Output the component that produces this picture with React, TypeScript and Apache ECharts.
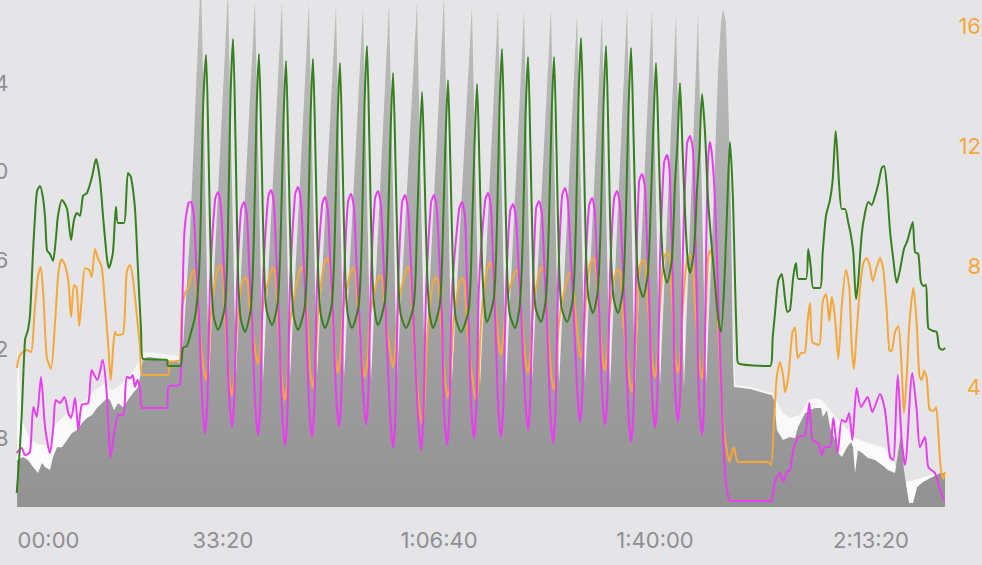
import { useEffect, useRef } from 'react';
import * as echarts from 'echarts';

const BG = '#e5e5e8';
const AXIS_GRAY = '#8e8e93';
const ORANGE = '#f5a83a';
const GREEN = '#37801f';
const MAGENTA = '#e93df2';
const FONT = 'Inter, "Liberation Sans", sans-serif';

// time axis (seconds)
const xMax = 8685;
const xTickInterval = 2000;
// left axis (green / magenta)
const leftMin = 44;
const leftMax = 67.72;
const leftInterval = 4;
// right axis (orange, areas)
const rightMin = 0;
const rightMax = 16.86;
const rightInterval = 4;

const greenLine: number[][] = [
  [90,45.50],[120,47.57],[139,49.33],[167,52.40],[194,52.85],[213,53.52],[241,56.36],[259,57.94],[278,59.11],[306,59.34],[333,58.80],[352,57.94],[370,56.45],[398,56.27],[426,55.96],[454,57.04],[472,57.99],[509,58.71],[556,58.30],[593,56.90],[620,57.80],[648,58.12],[676,57.99],[704,58.89],[741,59.02],[787,59.74],[824,60.55],[861,59.61],[889,57.99],[926,56.05],[944,55.64],[981,56.36],[1009,58.39],[1028,57.67],[1083,57.67],[1120,59.92],[1148,59.74],[1185,58.30],[1213,55.55],[1241,52.85],[1259,51.54],[1481,51.50],[1491,51.22],[1602,51.22],[1630,52.04],[1667,52.13],[1710,52.85],[1741,53.43],[1766,54.51],[1787,56.45],[1803,60.19],[1818,63.21],[1843,65.24],
  [1866,60.91],[1889,55.55],[1912,53.52],[1954,52.85],[2019,53.97],[2046,57.35],[2069,63.26],[2093,65.96],
  [2116,61.32],[2139,55.46],[2162,53.43],[2204,52.76],[2259,53.88],[2287,57.26],[2310,62.58],[2333,65.29],
  [2356,61.00],[2380,55.78],[2403,53.75],[2454,53.07],[2509,54.20],[2537,57.58],[2560,62.27],[2583,64.97],
  [2606,60.73],[2630,55.55],[2653,53.52],[2694,52.85],[2759,53.97],[2787,57.35],[2810,62.36],[2833,65.06],
  [2856,60.82],[2880,55.64],[2903,53.61],[2944,52.94],[3009,54.06],[3037,57.44],[3060,62.18],[3083,64.88],
  [3106,60.69],[3130,55.64],[3153,53.61],[3194,52.94],[3259,54.06],[3287,57.44],[3310,62.94],[3333,65.65],
  [3356,61.23],[3380,55.78],[3403,53.75],[3435,53.07],[3500,54.20],[3528,57.58],[3551,61.73],[3574,64.43],
  [3597,60.42],[3620,55.64],[3643,53.61],[3694,52.94],[3768,54.06],[3796,57.44],[3819,60.87],[3843,63.57],
  [3866,59.83],[3889,55.64],[3912,53.61],[3944,52.94],[4009,54.06],[4037,57.44],[4060,61.41],[4083,64.11],
  [4106,60.15],[4130,55.46],[4153,53.43],[4204,52.76],[4278,53.88],[4305,57.26],[4329,61.23],[4352,63.93],
  [4375,60.19],[4398,55.91],[4421,53.88],[4444,53.21],[4509,54.33],[4537,57.71],[4560,62.81],[4583,65.51],
  [4606,61.09],[4630,55.64],[4653,53.61],[4704,52.94],[4750,54.06],[4778,57.44],[4801,62.45],[4824,65.15],
  [4847,60.96],[4870,55.91],[4893,53.88],[4944,53.21],[4991,54.33],[5018,57.71],[5042,62.45],[5065,65.15],
  [5088,60.96],[5111,55.91],[5134,53.88],[5185,53.21],[5241,54.33],[5268,57.71],[5292,63.30],[5315,66.01],
  [5338,61.68],[5361,56.32],[5384,54.29],[5426,53.61],[5472,54.74],[5500,58.12],[5523,62.94],[5546,65.65],
  [5569,61.46],[5592,56.32],[5616,54.29],[5657,53.61],[5704,54.74],[5731,58.12],[5755,62.85],[5778,65.56],
  [5801,61.64],[5824,57.04],[5847,55.01],[5889,54.33],[5935,55.46],[5963,58.84],[5986,62.18],[6009,64.88],
  [6032,61.41],[6055,57.67],[6079,55.64],[6111,54.97],[6157,56.09],[6185,59.47],[6208,61.27],[6231,63.98],
  [6255,60.96],[6278,58.12],[6301,56.09],[6324,55.42],[6361,56.45],[6389,59.16],[6412,60.96],[6435,63.48],
  [6463,61.73],[6491,58.71],[6528,56.45],[6555,54.97],[6583,53.43],[6611,52.76],[6648,55.69],[6676,59.47],[6694,61.32],[6722,58.71],[6741,54.97],[6759,51.95],[6768,51.36],[7065,51.22],
  [7090,52.53],[7111,53.61],[7141,55.06],[7173,55.37],[7204,54.24],[7225,53.66],[7250,53.75],[7280,55.24],[7305,55.87],[7327,55.15],[7398,55.15],[7419,56.50],[7442,55.69],[7466,54.74],[7528,54.74],[7553,56.36],[7583,57.99],[7620,58.71],[7645,59.61],[7673,61.82],[7706,59.29],[7729,58.30],[7759,58.30],[7790,57.67],[7812,57.17],[7836,56.36],[7861,54.24],[7882,55.06],[7914,57.17],[7944,58.12],[7975,58.62],[8006,58.48],[8037,58.89],[8067,59.43],[8099,60.15],[8120,60.24],[8145,59.43],[8176,57.31],[8206,56.05],[8238,54.97],[8268,55.55],[8305,56.50],[8336,56.86],[8361,57.31],[8386,57.71],[8407,56.36],[8438,56.27],[8460,55.06],[8484,54.83],[8509,54.88],[8530,52.94],[8577,52.80],[8608,52.76],[8632,52.04],[8664,51.95],[8685,52.04],
];

const magentaLine: number[][] = [
  [90,47.30],[136,47.53],[167,47.21],[213,47.35],[244,49.38],[275,48.93],[315,50.73],[352,48.48],[398,47.30],[429,48.48],[451,49.69],[491,49.56],[531,49.83],[568,49.11],[593,48.88],[630,49.78],[660,48.34],[692,49.47],[753,49.56],[784,51.04],[836,50.59],[886,51.50],[923,50.01],[960,47.12],[994,48.25],[1031,49.02],[1077,49.02],[1108,50.73],[1145,50.68],[1164,50.82],[1185,50.28],[1206,50.59],[1231,50.23],[1256,49.33],[1479,49.33],[1494,50.28],[1602,50.41],[1618,52.71],[1642,57.22],[1679,58.57],[1704,58.62],
  [1731,57.94],[1755,55.46],[1778,53.39],[1806,49.78],[1833,48.20],[1856,49.78],[1880,54.97],[1926,58.71],[1954,59.07],
  [1981,58.39],[2005,55.91],[2028,53.75],[2055,50.05],[2083,48.48],[2106,50.05],[2130,54.88],[2167,58.26],[2194,58.62],
  [2222,57.94],[2245,55.46],[2268,53.34],[2296,49.69],[2324,48.11],[2347,49.69],[2370,54.97],[2417,58.80],[2444,59.16],
  [2472,58.48],[2495,56.00],[2518,53.39],[2546,49.24],[2574,47.66],[2597,49.24],[2620,54.83],[2667,58.93],[2694,59.29],
  [2722,58.62],[2745,56.14],[2768,53.66],[2796,49.60],[2824,48.02],[2847,49.60],[2870,54.78],[2917,58.48],[2944,58.84],
  [2972,58.17],[2995,55.69],[3018,53.66],[3046,50.05],[3074,48.48],[3097,50.05],[3120,55.06],[3157,58.62],[3185,58.98],
  [3213,58.30],[3236,55.82],[3259,53.75],[3296,50.14],[3324,48.57],[3347,50.14],[3370,55.19],[3407,58.75],[3435,59.11],
  [3463,58.44],[3486,55.96],[3509,53.30],[3546,49.11],[3574,47.53],[3597,49.11],[3620,54.56],[3657,58.57],[3685,58.93],
  [3713,58.26],[3741,55.78],[3764,53.16],[3805,49.02],[3833,47.44],[3856,49.02],[3880,54.51],[3926,58.57],[3954,58.93],
  [3981,58.26],[4005,55.78],[4028,53.30],[4046,49.24],[4074,47.66],[4097,49.24],[4120,54.47],[4185,58.26],[4213,58.62],
  [4241,57.94],[4256,55.46],[4274,53.30],[4296,49.56],[4324,47.98],[4347,49.56],[4370,54.83],[4426,58.66],[4454,59.02],
  [4481,58.35],[4501,55.87],[4520,53.52],[4546,49.60],[4574,48.02],[4597,49.60],[4620,54.60],[4657,58.17],[4685,58.53],
  [4713,57.85],[4740,55.37],[4762,53.43],[4796,49.92],[4824,48.34],[4847,49.92],[4870,54.83],[4898,58.30],[4926,58.66],
  [4954,57.99],[4977,55.51],[5000,53.21],[5028,49.33],[5055,47.75],[5079,49.33],[5102,54.83],[5139,58.89],[5167,59.25],
  [5194,58.57],[5221,56.09],[5243,53.97],[5278,50.28],[5305,48.70],[5329,50.28],[5352,55.10],[5389,58.44],[5417,58.80],
  [5444,58.12],[5464,55.64],[5483,53.66],[5509,50.14],[5537,48.57],[5560,50.14],[5583,55.19],[5620,58.75],[5648,59.11],
  [5676,58.44],[5699,55.96],[5722,53.43],[5750,49.38],[5778,47.80],[5801,49.38],[5824,55.19],[5852,59.52],[5880,59.88],
  [5907,59.20],[5927,56.72],[5946,54.15],[5972,50.01],[6000,48.43],[6023,50.01],[6046,55.91],[6083,60.37],[6111,60.73],
  [6134,60.06],[6151,57.58],[6167,54.69],[6185,50.28],[6213,48.70],[6236,50.28],[6259,56.50],[6296,61.23],[6324,61.59],
  [6352,60.91],[6367,58.44],[6385,54.83],[6407,49.69],[6435,48.11],[6454,49.69],[6472,56.05],[6491,60.51],[6509,61.32],
  [6532,60.51],[6555,58.71],[6586,54.20],[6617,49.69],[6648,46.40],[6679,45.28],[6704,45.14],[7065,45.14],
  [7080,45.19],[7111,46.00],[7157,46.40],[7188,46.00],[7219,46.45],[7250,46.54],[7280,47.44],[7327,48.02],[7389,48.11],[7429,49.56],[7456,47.89],[7512,47.75],[7543,47.21],[7574,47.57],[7620,47.57],[7651,48.88],[7691,47.30],[7729,48.79],[7766,48.70],[7796,49.11],[7827,47.89],[7867,50.23],[7907,49.38],[7969,49.83],[8012,49.15],[8083,49.96],[8129,49.24],[8176,47.12],[8206,46.99],[8247,50.82],[8284,47.89],[8315,46.76],[8382,50.91],[8423,49.24],[8453,47.57],[8500,48.02],[8530,46.67],[8592,46.40],[8639,45.64],[8679,45.19],
];

const orangeLine: number[][] = [
  [90,4.62],[120,5.05],[182,5.22],[222,5.15],[259,6.68],[290,7.75],[312,7.98],[336,7.05],[368,4.99],[407,4.59],[444,6.08],[475,7.75],[506,8.24],[537,8.05],[568,7.51],[593,6.32],[620,7.38],[645,7.28],[669,6.02],[692,6.92],[722,7.95],[762,7.88],[784,7.65],[815,8.58],[845,8.24],[877,7.98],[907,6.78],[938,5.35],[960,4.22],[984,5.35],[1000,5.82],[1016,5.72],[1077,5.78],[1108,7.81],[1139,8.05],[1164,7.65],[1201,6.42],[1231,5.35],[1256,4.39],[1494,4.39],[1503,4.82],[1602,4.89],[1618,6.55],[1648,7.11],[1679,7.31],[1704,7.65],[1725,7.88],
  [1745,7.71],[1768,6.42],[1819,4.65],[1843,4.22],[1866,4.89],[1889,6.45],[1940,7.78],[1972,8.05],
  [1995,7.88],[2019,6.32],[2060,4.16],[2083,3.72],[2106,4.39],[2130,6.02],[2171,7.38],[2204,7.65],
  [2227,7.48],[2250,6.48],[2301,5.15],[2324,4.72],[2347,5.39],[2370,6.65],[2431,7.68],[2463,7.95],
  [2486,7.78],[2509,6.18],[2551,3.99],[2574,3.56],[2597,4.22],[2620,6.08],[2699,7.71],[2731,7.98],
  [2755,7.81],[2778,6.38],[2810,4.42],[2833,3.99],[2856,4.65],[2880,6.45],[2931,8.01],[2963,8.28],
  [2986,8.11],[3009,6.75],[3042,4.89],[3065,4.45],[3088,5.12],[3111,6.52],[3171,7.68],[3204,7.95],
  [3227,7.78],[3250,6.48],[3292,4.75],[3315,4.32],[3338,4.99],[3361,6.35],[3421,7.45],[3454,7.71],
  [3477,7.55],[3500,6.48],[3551,5.09],[3574,4.65],[3597,5.32],[3620,6.65],[3681,7.71],[3713,7.98],
  [3736,7.81],[3759,5.92],[3819,3.22],[3843,2.79],[3866,3.46],[3889,5.55],[3940,7.38],[3972,7.65],
  [3995,7.48],[4018,6.05],[4060,4.06],[4083,3.62],[4106,4.29],[4130,5.95],[4181,7.35],[4213,7.61],
  [4236,7.45],[4259,5.98],[4319,3.99],[4343,3.56],[4366,4.22],[4389,6.15],[4440,7.85],[4472,8.11],
  [4495,7.95],[4518,6.88],[4551,5.49],[4574,5.05],[4597,5.72],[4620,6.78],[4681,7.61],[4713,7.88],
  [4736,7.71],[4759,6.52],[4801,4.89],[4824,4.45],[4847,5.12],[4870,6.55],[4921,7.71],[4954,7.98],
  [4977,7.81],[5000,6.35],[5042,4.32],[5065,3.89],[5088,4.55],[5111,6.15],[5180,7.51],[5213,7.78],
  [5236,7.61],[5259,6.65],[5292,5.39],[5315,4.95],[5338,5.62],[5361,6.95],[5393,8.01],[5426,8.28],
  [5449,8.11],[5472,6.78],[5514,4.99],[5537,4.55],[5560,5.22],[5583,6.55],[5625,7.65],[5657,7.91],
  [5680,7.75],[5704,6.28],[5764,4.26],[5787,3.82],[5810,4.49],[5833,6.35],[5856,7.95],[5889,8.21],
  [5912,8.05],[5935,6.65],[5977,4.75],[6000,4.32],[6023,4.99],[6046,6.72],[6079,8.21],[6111,8.48],
  [6134,8.31],[6157,6.88],[6190,4.89],[6213,4.45],[6236,5.12],[6259,6.75],[6292,8.11],[6324,8.38],
  [6347,8.21],[6370,6.75],[6412,4.72],[6435,4.29],[6454,4.95],[6472,6.75],[6491,8.28],[6509,8.54],
  [6540,7.98],[6571,6.88],[6602,4.65],[6632,2.66],[6664,1.89],[6688,1.50],[6710,1.80],[6731,1.99],[6750,1.66],[6771,1.50],[7049,1.50],[7074,1.40],[7104,2.99],[7127,4.32],[7157,4.82],[7188,4.32],[7204,3.82],[7234,4.32],[7271,5.78],[7296,5.98],[7321,4.95],[7352,5.12],[7389,5.15],[7414,6.22],[7435,6.78],[7456,5.49],[7518,5.39],[7553,6.85],[7583,7.08],[7614,6.18],[7636,6.98],[7666,6.32],[7697,4.92],[7729,6.68],[7768,7.88],[7799,7.28],[7821,5.35],[7842,4.59],[7867,5.82],[7898,7.28],[7929,8.11],[7960,8.28],[7991,7.98],[8016,7.51],[8053,7.98],[8083,8.28],[8114,7.88],[8145,6.55],[8169,5.22],[8191,5.19],[8222,5.82],[8253,6.02],[8284,4.62],[8305,3.12],[8330,4.29],[8355,6.08],[8392,7.28],[8423,6.08],[8447,4.39],[8469,4.22],[8491,4.52],[8516,4.29],[8540,3.26],[8577,3.19],[8602,3.32],[8623,2.49],[8645,1.30],[8669,0.93],[8685,1.16],
];

const grayArea: number[][] = [
  [93,1.56],[148,1.66],[194,1.56],[241,1.33],[287,1.13],[324,1.46],[352,1.33],[398,1.23],[426,1.66],[463,1.99],[509,1.99],[556,2.23],[602,2.46],[648,2.56],[694,2.79],[741,2.96],[787,3.06],[833,3.29],[880,3.46],[926,3.62],[954,3.56],[991,3.22],[1028,3.46],[1074,3.32],[1120,3.56],[1167,3.79],[1213,3.99],[1241,4.49],[1259,4.95],[1324,4.99],[1481,4.89],[1574,4.82],[1620,4.79],[1694,9.04],
  [1796,17.85],[1870,4.29],[2046,17.19],[2120,4.39],[2296,16.86],[2370,4.22],[2546,16.86],[2620,4.29],[2796,16.76],[2870,4.36],[3046,16.69],[3120,4.29],[3296,16.59],[3370,4.22],[3537,16.76],[3611,4.29],[3796,16.79],[3870,4.16],[4046,17.02],[4120,4.22],[4305,16.69],[4380,4.09],[4546,16.59],[4620,4.06],[4787,16.52],[4861,4.16],[5037,16.59],[5111,4.06],[5278,16.42],[5352,4.12],[5509,16.36],[5583,4.02],[5741,16.62],[5815,4.09],[5972,16.59],[6046,4.02],[6194,16.36],[6268,3.96],[6398,16.42],[6472,4.02],
  [6537,9.67],[6583,14.46],[6611,16.12],[6630,16.56],[6657,16.12],[6676,13.86],[6704,9.67],[6722,4.89],[6731,3.99],
  [6880,3.92],[7083,3.72],[7102,3.56],[7129,2.56],[7185,2.23],[7250,2.33],[7296,2.29],[7324,2.66],[7389,3.12],[7435,3.22],[7481,3.29],[7537,3.29],[7555,2.99],[7592,3.22],[7620,2.66],[7666,2.23],[7694,1.80],[7731,1.66],[7778,1.99],[7815,2.16],[7833,1.99],[7852,1.13],[7879,1.89],[7916,1.80],[7972,1.63],[8037,1.56],[8102,1.40],[8157,1.23],[8222,1.13],[8278,2.46],[8305,1.23],[8333,0.56],[8352,0.13],[8389,0.13],[8426,0.66],[8481,0.83],[8546,0.96],[8639,1.13],[8685,1.13],
];

const whiteArea: number[][] = [
  [93,5.55],[139,2.89],[213,2.23],[306,2.06],[398,2.06],[444,2.73],[537,3.06],[630,3.39],[722,3.56],[815,3.89],[907,4.12],[972,3.89],[1046,4.06],[1139,4.39],[1231,4.89],[1259,5.15],[1324,5.15],[1602,5.02],[1630,5.15],[1704,8.88],
  [1805,17.85],[1889,4.55],[2055,17.19],[2139,4.65],[2305,16.86],[2389,4.49],[2555,16.86],[2639,4.55],[2805,16.76],[2889,4.62],[3055,16.69],[3139,4.55],[3305,16.59],[3389,4.49],[3546,16.76],[3630,4.55],[3805,16.79],[3889,4.42],[4055,17.02],[4139,4.49],[4314,16.69],[4398,4.35],[4555,16.59],[4639,4.32],[4796,16.52],[4880,4.42],[5046,16.59],[5130,4.32],[5287,16.42],[5370,4.39],[5518,16.36],[5602,4.29],[5750,16.62],[5833,4.35],[5981,16.59],[6065,4.29],[6203,16.36],[6287,4.22],[6407,16.42],[6491,4.29],
  [6639,16.56],[6667,16.12],[6685,13.86],[6713,9.67],[6731,4.89],[6745,4.06],[6880,3.99],[7083,3.79],
  [7120,3.56],[7176,3.16],[7250,2.96],[7342,3.06],[7416,3.56],[7481,3.62],[7546,3.56],[7620,3.22],[7694,2.89],[7768,2.63],[7852,2.29],[7944,2.16],[8037,2.06],[8129,1.96],[8222,1.40],[8315,0.83],[8407,0.90],[8500,1.00],[8592,1.10],[8685,1.16],
];

const pad = (n: number) => String(n).padStart(2, '0');
const fmtTime = (v: number) => {
  const h = Math.floor(v / 3600);
  const m = Math.floor((v % 3600) / 60);
  const s = Math.round(v % 60);
  return h > 0 ? `${h}:${pad(m)}:${pad(s)}` : `${pad(m)}:${pad(s)}`;
};

export default function App() {
  const ref = useRef<HTMLDivElement>(null);
  useEffect(() => {
    document.body.style.margin = '0';
    document.body.style.background = BG;
    const chart = echarts.init(ref.current!, null, { renderer: 'svg' });
    const gridBase = { left: 7, right: 37, top: 0, containLabel: false, outerBoundsMode: 'none' };
    chart.setOption({
      animation: false,
      backgroundColor: BG,
      grid: [
        { ...gridBase, height: 507 },
        { ...gridBase, height: 526.25 },
      ],
      xAxis: [
        {
          type: 'value', gridIndex: 0, min: 0, max: xMax, interval: xTickInterval,
          axisLine: { show: false }, axisTick: { show: false }, splitLine: { show: false },
          axisLabel: {
            showMaxLabel: false,
            margin: 22,
            color: AXIS_GRAY, fontSize: 22, fontFamily: FONT,
            formatter: (v: number) => (v === 0 ? '{first|00:00}' : fmtTime(v)),
            rich: { first: { padding: [0, 0, 0, 83], color: AXIS_GRAY, fontSize: 22, fontFamily: FONT } },
          },
        },
        { type: 'value', gridIndex: 1, min: 0, max: xMax, show: false },
      ],
      yAxis: [
        {
          type: 'value', gridIndex: 1, position: 'left', min: leftMin, max: leftMax, interval: leftInterval,
          axisLine: { show: false }, axisTick: { show: false }, splitLine: { show: false },
          axisLabel: { showMinLabel: false, showMaxLabel: false, margin: -1.5, color: AXIS_GRAY, fontSize: 22, fontFamily: FONT },
        },
        {
          type: 'value', gridIndex: 0, position: 'right', min: rightMin, max: rightMax, interval: rightInterval,
          axisLine: { show: false }, axisTick: { show: false }, splitLine: { show: false },
          axisLabel: { showMinLabel: false, showMaxLabel: false, align: 'right', margin: 36, color: ORANGE, fontSize: 22, fontFamily: FONT },
        },
      ],
      series: [
        {
          type: 'line', xAxisIndex: 0, yAxisIndex: 1, data: whiteArea, showSymbol: false, symbol: 'none',
          lineStyle: { width: 0, opacity: 0 },
          areaStyle: {
            color: { type: 'linear', x: 0, y: 0, x2: 0, y2: 1, colorStops: [
              { offset: 0, color: 'rgba(255,255,255,0)' },
              { offset: 0.5, color: 'rgba(255,255,255,0.3)' },
              { offset: 1, color: 'rgba(255,255,255,1)' },
            ] },
            opacity: 1,
          },
        },
        {
          type: 'line', xAxisIndex: 0, yAxisIndex: 1, data: grayArea, showSymbol: false, symbol: 'none',
          lineStyle: { width: 0, opacity: 0 },
          areaStyle: {
            color: { type: 'linear', x: 0, y: 0, x2: 0, y2: 1, colorStops: [
              { offset: 0, color: '#c0c0c0' },
              { offset: 1, color: '#929292' },
            ] },
            opacity: 1,
          },
        },
        {
          type: 'line', xAxisIndex: 0, yAxisIndex: 1, data: orangeLine, showSymbol: false, symbol: 'none',
          smooth: 0.25, lineStyle: { color: ORANGE, width: 2 },
        },
        {
          type: 'line', xAxisIndex: 1, yAxisIndex: 0, data: magentaLine, showSymbol: false, symbol: 'none',
          smooth: 0.25, lineStyle: { color: MAGENTA, width: 2 },
        },
        {
          type: 'line', xAxisIndex: 1, yAxisIndex: 0, data: greenLine, showSymbol: false, symbol: 'none',
          smooth: 0.25, lineStyle: { color: GREEN, width: 2 },
        },
      ],
    });
    return () => chart.dispose();
  }, []);
  return (
    <div
      ref={ref}
      style={{ position: 'fixed', left: 0, top: 0, width: 982, height: 565, background: BG }}
    />
  );
}
